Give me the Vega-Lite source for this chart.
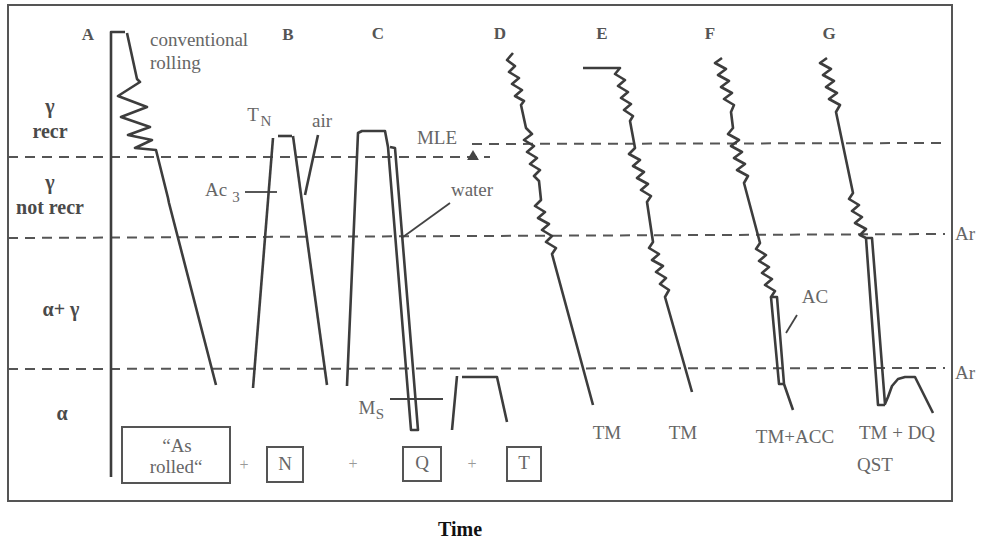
{
  "$schema": "https://vega.github.io/schema/vega-lite/v6.json",
  "width": 983,
  "height": 540,
  "padding": 0,
  "autosize": {"type": "fit", "contains": "padding"},
  "background": "white",
  "config": {"view": {"stroke": null}},
  "datasets": {
    "frame": [{"x": 8, "y": 5, "x2": 952, "y2": 501}],
    "boxes": [
      {"x": 122, "y": 427, "x2": 230, "y2": 483},
      {"x": 267, "y": 447, "x2": 303, "y2": 482},
      {"x": 403, "y": 447, "x2": 441, "y2": 481},
      {"x": 507, "y": 447, "x2": 541, "y2": 481}
    ],
    "dashed": [
      {"id": "d1", "o": 1, "x": 8, "y": 157}, {"id": "d1", "o": 2, "x": 490, "y": 157},
      {"id": "d2", "o": 1, "x": 472, "y": 144}, {"id": "d2", "o": 2, "x": 945, "y": 143},
      {"id": "d3", "o": 1, "x": 8, "y": 238}, {"id": "d3", "o": 2, "x": 945, "y": 234},
      {"id": "d4", "o": 1, "x": 8, "y": 369}, {"id": "d4", "o": 2, "x": 945, "y": 368}
    ],
    "thin": [
      {"id": "ac3", "o": 1, "x": 245, "y": 192}, {"id": "ac3", "o": 2, "x": 277, "y": 192},
      {"id": "ms", "o": 1, "x": 390, "y": 399}, {"id": "ms", "o": 2, "x": 443, "y": 399},
      {"id": "wat", "o": 1, "x": 403, "y": 237}, {"id": "wat", "o": 2, "x": 450, "y": 203},
      {"id": "acl", "o": 1, "x": 786, "y": 333}, {"id": "acl", "o": 2, "x": 797, "y": 315}
    ],
    "solid": [
      {"id": "A0", "o": 1, "x": 111, "y": 477}, {"id": "A0", "o": 2, "x": 111, "y": 32}, {"id": "A0", "o": 3, "x": 125, "y": 32},
      {"id": "A1", "o": 1, "x": 127, "y": 33}, {"id": "A1", "o": 2, "x": 137, "y": 79}, {"id": "A1", "o": 3, "x": 140, "y": 82},
      {"id": "A1", "o": 4, "x": 118, "y": 96}, {"id": "A1", "o": 5, "x": 147, "y": 107}, {"id": "A1", "o": 6, "x": 121, "y": 117},
      {"id": "A1", "o": 7, "x": 150, "y": 127}, {"id": "A1", "o": 8, "x": 128, "y": 135}, {"id": "A1", "o": 9, "x": 152, "y": 140},
      {"id": "A1", "o": 10, "x": 135, "y": 148}, {"id": "A1", "o": 11, "x": 156, "y": 150}, {"id": "A1", "o": 12, "x": 168, "y": 198},
      {"id": "A1", "o": 13, "x": 169, "y": 203}, {"id": "A1", "o": 14, "x": 216, "y": 385},
      {"id": "B0", "o": 1, "x": 253, "y": 388}, {"id": "B0", "o": 2, "x": 273, "y": 138},
      {"id": "B1", "o": 1, "x": 278, "y": 136}, {"id": "B1", "o": 2, "x": 292, "y": 136},
      {"id": "B2", "o": 1, "x": 293, "y": 136}, {"id": "B2", "o": 2, "x": 327, "y": 385},
      {"id": "B3", "o": 1, "x": 305, "y": 195}, {"id": "B3", "o": 2, "x": 318, "y": 135},
      {"id": "C0", "o": 1, "x": 347, "y": 386}, {"id": "C0", "o": 2, "x": 358, "y": 133}, {"id": "C0", "o": 3, "x": 362, "y": 131},
      {"id": "C0", "o": 4, "x": 385, "y": 131}, {"id": "C0", "o": 5, "x": 388, "y": 147}, {"id": "C0", "o": 6, "x": 411, "y": 430},
      {"id": "C0", "o": 7, "x": 418, "y": 430}, {"id": "C0", "o": 8, "x": 395, "y": 148}, {"id": "C0", "o": 9, "x": 390, "y": 147},
      {"id": "T0", "o": 1, "x": 452, "y": 430}, {"id": "T0", "o": 2, "x": 457, "y": 376},
      {"id": "T1", "o": 1, "x": 462, "y": 377}, {"id": "T1", "o": 2, "x": 497, "y": 377}, {"id": "T1", "o": 3, "x": 507, "y": 422},
      {"id": "D", "o": 1, "x": 513, "y": 53}, {"id": "D", "o": 2, "x": 507, "y": 60}, {"id": "D", "o": 3, "x": 515, "y": 66},
      {"id": "D", "o": 4, "x": 509, "y": 72}, {"id": "D", "o": 5, "x": 519, "y": 78}, {"id": "D", "o": 6, "x": 512, "y": 84},
      {"id": "D", "o": 7, "x": 522, "y": 90}, {"id": "D", "o": 8, "x": 515, "y": 96}, {"id": "D", "o": 9, "x": 524, "y": 101},
      {"id": "D", "o": 10, "x": 521, "y": 105}, {"id": "D", "o": 11, "x": 526, "y": 128}, {"id": "D", "o": 12, "x": 532, "y": 134},
      {"id": "D", "o": 13, "x": 524, "y": 140}, {"id": "D", "o": 14, "x": 534, "y": 146}, {"id": "D", "o": 15, "x": 527, "y": 152},
      {"id": "D", "o": 16, "x": 537, "y": 158}, {"id": "D", "o": 17, "x": 530, "y": 164}, {"id": "D", "o": 18, "x": 540, "y": 170},
      {"id": "D", "o": 19, "x": 534, "y": 176}, {"id": "D", "o": 20, "x": 539, "y": 181}, {"id": "D", "o": 21, "x": 541, "y": 200},
      {"id": "D", "o": 22, "x": 535, "y": 206}, {"id": "D", "o": 23, "x": 545, "y": 212}, {"id": "D", "o": 24, "x": 538, "y": 218},
      {"id": "D", "o": 25, "x": 549, "y": 224}, {"id": "D", "o": 26, "x": 542, "y": 230}, {"id": "D", "o": 27, "x": 552, "y": 236},
      {"id": "D", "o": 28, "x": 546, "y": 242}, {"id": "D", "o": 29, "x": 556, "y": 248}, {"id": "D", "o": 30, "x": 552, "y": 254},
      {"id": "D", "o": 31, "x": 593, "y": 405},
      {"id": "E", "o": 1, "x": 583, "y": 68}, {"id": "E", "o": 2, "x": 620, "y": 68}, {"id": "E", "o": 3, "x": 615, "y": 74},
      {"id": "E", "o": 4, "x": 625, "y": 80}, {"id": "E", "o": 5, "x": 618, "y": 86}, {"id": "E", "o": 6, "x": 628, "y": 92},
      {"id": "E", "o": 7, "x": 621, "y": 98}, {"id": "E", "o": 8, "x": 631, "y": 104}, {"id": "E", "o": 9, "x": 624, "y": 110},
      {"id": "E", "o": 10, "x": 633, "y": 116}, {"id": "E", "o": 11, "x": 630, "y": 121}, {"id": "E", "o": 12, "x": 635, "y": 148},
      {"id": "E", "o": 13, "x": 629, "y": 154}, {"id": "E", "o": 14, "x": 640, "y": 160}, {"id": "E", "o": 15, "x": 633, "y": 166},
      {"id": "E", "o": 16, "x": 644, "y": 172}, {"id": "E", "o": 17, "x": 637, "y": 178}, {"id": "E", "o": 18, "x": 648, "y": 184},
      {"id": "E", "o": 19, "x": 641, "y": 190}, {"id": "E", "o": 20, "x": 651, "y": 196}, {"id": "E", "o": 21, "x": 647, "y": 202},
      {"id": "E", "o": 22, "x": 653, "y": 242}, {"id": "E", "o": 23, "x": 649, "y": 248}, {"id": "E", "o": 24, "x": 659, "y": 254},
      {"id": "E", "o": 25, "x": 652, "y": 260}, {"id": "E", "o": 26, "x": 663, "y": 266}, {"id": "E", "o": 27, "x": 656, "y": 272},
      {"id": "E", "o": 28, "x": 666, "y": 278}, {"id": "E", "o": 29, "x": 660, "y": 284}, {"id": "E", "o": 30, "x": 669, "y": 290},
      {"id": "E", "o": 31, "x": 665, "y": 297}, {"id": "E", "o": 32, "x": 692, "y": 392},
      {"id": "F", "o": 1, "x": 722, "y": 58}, {"id": "F", "o": 2, "x": 715, "y": 63}, {"id": "F", "o": 3, "x": 726, "y": 69},
      {"id": "F", "o": 4, "x": 718, "y": 75}, {"id": "F", "o": 5, "x": 729, "y": 81}, {"id": "F", "o": 6, "x": 721, "y": 87},
      {"id": "F", "o": 7, "x": 732, "y": 93}, {"id": "F", "o": 8, "x": 724, "y": 99}, {"id": "F", "o": 9, "x": 734, "y": 105},
      {"id": "F", "o": 10, "x": 731, "y": 112}, {"id": "F", "o": 11, "x": 733, "y": 128}, {"id": "F", "o": 12, "x": 728, "y": 134},
      {"id": "F", "o": 13, "x": 739, "y": 140}, {"id": "F", "o": 14, "x": 731, "y": 146}, {"id": "F", "o": 15, "x": 742, "y": 152},
      {"id": "F", "o": 16, "x": 734, "y": 158}, {"id": "F", "o": 17, "x": 745, "y": 164}, {"id": "F", "o": 18, "x": 737, "y": 170},
      {"id": "F", "o": 19, "x": 748, "y": 176}, {"id": "F", "o": 20, "x": 744, "y": 183}, {"id": "F", "o": 21, "x": 760, "y": 243},
      {"id": "F", "o": 22, "x": 756, "y": 249}, {"id": "F", "o": 23, "x": 766, "y": 255}, {"id": "F", "o": 24, "x": 759, "y": 261},
      {"id": "F", "o": 25, "x": 769, "y": 267}, {"id": "F", "o": 26, "x": 762, "y": 273}, {"id": "F", "o": 27, "x": 772, "y": 279},
      {"id": "F", "o": 28, "x": 765, "y": 285}, {"id": "F", "o": 29, "x": 775, "y": 291}, {"id": "F", "o": 30, "x": 771, "y": 297},
      {"id": "F", "o": 31, "x": 777, "y": 297}, {"id": "F", "o": 32, "x": 784, "y": 384}, {"id": "F", "o": 33, "x": 793, "y": 410},
      {"id": "F1", "o": 1, "x": 771, "y": 297}, {"id": "F1", "o": 2, "x": 779, "y": 384}, {"id": "F1", "o": 3, "x": 784, "y": 384},
      {"id": "G", "o": 1, "x": 827, "y": 58}, {"id": "G", "o": 2, "x": 820, "y": 63}, {"id": "G", "o": 3, "x": 831, "y": 69},
      {"id": "G", "o": 4, "x": 823, "y": 75}, {"id": "G", "o": 5, "x": 834, "y": 81}, {"id": "G", "o": 6, "x": 826, "y": 87},
      {"id": "G", "o": 7, "x": 837, "y": 93}, {"id": "G", "o": 8, "x": 829, "y": 99}, {"id": "G", "o": 9, "x": 840, "y": 105},
      {"id": "G", "o": 10, "x": 836, "y": 112}, {"id": "G", "o": 11, "x": 853, "y": 193}, {"id": "G", "o": 12, "x": 849, "y": 199},
      {"id": "G", "o": 13, "x": 859, "y": 205}, {"id": "G", "o": 14, "x": 852, "y": 211}, {"id": "G", "o": 15, "x": 862, "y": 217},
      {"id": "G", "o": 16, "x": 855, "y": 223}, {"id": "G", "o": 17, "x": 866, "y": 229}, {"id": "G", "o": 18, "x": 860, "y": 235},
      {"id": "G", "o": 19, "x": 866, "y": 238}, {"id": "G", "o": 20, "x": 872, "y": 238}, {"id": "G", "o": 21, "x": 885, "y": 404},
      {"id": "G", "o": 22, "x": 888, "y": 397}, {"id": "G", "o": 23, "x": 892, "y": 386}, {"id": "G", "o": 24, "x": 898, "y": 379},
      {"id": "G", "o": 25, "x": 905, "y": 377}, {"id": "G", "o": 26, "x": 915, "y": 377}, {"id": "G", "o": 27, "x": 933, "y": 413},
      {"id": "G1", "o": 1, "x": 866, "y": 238}, {"id": "G1", "o": 2, "x": 878, "y": 405}, {"id": "G1", "o": 3, "x": 885, "y": 405}
    ],
    "mle": [{"x": 473, "y": 155}],
    "letters": [
      {"x": 88, "y": 35, "t": "A"}, {"x": 288, "y": 35, "t": "B"}, {"x": 378, "y": 34, "t": "C"},
      {"x": 500, "y": 34, "t": "D"}, {"x": 602, "y": 34, "t": "E"}, {"x": 710, "y": 34, "t": "F"}, {"x": 829, "y": 34, "t": "G"}
    ],
    "notesC": [
      {"x": 322, "y": 121, "t": "air"}, {"x": 437, "y": 138, "t": "MLE"}, {"x": 472, "y": 190, "t": "water"},
      {"x": 607, "y": 433, "t": "TM"}, {"x": 683, "y": 433, "t": "TM"}, {"x": 795, "y": 437, "t": "TM+ACC"},
      {"x": 897, "y": 433, "t": "TM + DQ"}, {"x": 815, "y": 297, "t": "AC"},
      {"x": 285, "y": 464, "t": "N"}, {"x": 422, "y": 463, "t": "Q"}, {"x": 524, "y": 463, "t": "T"},
      {"x": 177, "y": 446, "t": "“As"}, {"x": 176, "y": 467, "t": "rolled“"},
      {"x": 253, "y": 115, "t": "T"}, {"x": 216, "y": 190, "t": "Ac"}, {"x": 367, "y": 408, "t": "M"}
    ],
    "notesL": [
      {"x": 150, "y": 40, "t": "conventional"}, {"x": 150, "y": 63, "t": "rolling"},
      {"x": 857, "y": 465, "t": "QST"}, {"x": 955, "y": 234, "t": "Ar"}, {"x": 955, "y": 373, "t": "Ar"}
    ],
    "subs": [
      {"x": 266, "y": 121, "t": "N"}, {"x": 236, "y": 197, "t": "3"}, {"x": 380, "y": 414, "t": "S"}
    ],
    "phases": [
      {"x": 50, "y": 107, "t": "γ"}, {"x": 50, "y": 132, "t": "recr"}, {"x": 50, "y": 183, "t": "γ"},
      {"x": 50, "y": 208, "t": "not recr"}, {"x": 61, "y": 310, "t": "α+ γ"}, {"x": 62, "y": 414, "t": "α"}
    ],
    "plus": [
      {"x": 244, "y": 465, "t": "+"}, {"x": 353, "y": 464, "t": "+"}, {"x": 472, "y": 464, "t": "+"}
    ],
    "title": [{"x": 460, "y": 530, "t": "Time"}]
  },
  "layer": [
    {
      "data": {"name": "frame"},
      "mark": {"type": "rect", "fill": null, "fillOpacity": 0, "stroke": "#555", "strokeWidth": 2},
      "encoding": {
        "x": {"field": "x", "type": "quantitative", "scale": {"domain": [0, 983], "nice": false, "zero": false}, "axis": null},
        "y": {"field": "y", "type": "quantitative", "scale": {"domain": [0, 540], "nice": false, "zero": false, "reverse": true}, "axis": null},
        "x2": {"field": "x2"},
        "y2": {"field": "y2"}
      }
    },
    {
      "data": {"name": "boxes"},
      "mark": {"type": "rect", "fill": null, "fillOpacity": 0, "stroke": "#555", "strokeWidth": 2},
      "encoding": {
        "x": {"field": "x", "type": "quantitative", "axis": null},
        "y": {"field": "y", "type": "quantitative", "axis": null},
        "x2": {"field": "x2"},
        "y2": {"field": "y2"}
      }
    },
    {
      "data": {"name": "dashed"},
      "mark": {"type": "line", "color": "#555", "strokeWidth": 2, "strokeDash": [10, 7]},
      "encoding": {
        "x": {"field": "x", "type": "quantitative", "axis": null},
        "y": {"field": "y", "type": "quantitative", "axis": null},
        "detail": {"field": "id"},
        "order": {"field": "o"}
      }
    },
    {
      "data": {"name": "thin"},
      "mark": {"type": "line", "color": "#444", "strokeWidth": 1.8},
      "encoding": {
        "x": {"field": "x", "type": "quantitative", "axis": null},
        "y": {"field": "y", "type": "quantitative", "axis": null},
        "detail": {"field": "id"},
        "order": {"field": "o"}
      }
    },
    {
      "data": {"name": "solid"},
      "mark": {"type": "line", "color": "#3d3d3d", "strokeWidth": 2.6, "strokeJoin": "round"},
      "encoding": {
        "x": {"field": "x", "type": "quantitative", "axis": null},
        "y": {"field": "y", "type": "quantitative", "axis": null},
        "detail": {"field": "id"},
        "order": {"field": "o"}
      }
    },
    {
      "data": {"name": "mle"},
      "mark": {"type": "point", "shape": "triangle-up", "filled": true, "color": "#444", "size": 140, "opacity": 1},
      "encoding": {
        "x": {"field": "x", "type": "quantitative", "axis": null},
        "y": {"field": "y", "type": "quantitative", "axis": null}
      }
    },
    {
      "data": {"name": "letters"},
      "mark": {"type": "text", "font": "Liberation Serif", "fontSize": 17, "fontWeight": "bold", "color": "#555", "align": "center", "baseline": "middle"},
      "encoding": {
        "x": {"field": "x", "type": "quantitative", "axis": null},
        "y": {"field": "y", "type": "quantitative", "axis": null},
        "text": {"field": "t"}
      }
    },
    {
      "data": {"name": "notesC"},
      "mark": {"type": "text", "font": "Liberation Serif", "fontSize": 19, "color": "#666", "align": "center", "baseline": "middle"},
      "encoding": {
        "x": {"field": "x", "type": "quantitative", "axis": null},
        "y": {"field": "y", "type": "quantitative", "axis": null},
        "text": {"field": "t"}
      }
    },
    {
      "data": {"name": "notesL"},
      "mark": {"type": "text", "font": "Liberation Serif", "fontSize": 19, "color": "#666", "align": "left", "baseline": "middle"},
      "encoding": {
        "x": {"field": "x", "type": "quantitative", "axis": null},
        "y": {"field": "y", "type": "quantitative", "axis": null},
        "text": {"field": "t"}
      }
    },
    {
      "data": {"name": "subs"},
      "mark": {"type": "text", "font": "Liberation Serif", "fontSize": 15, "color": "#666", "align": "center", "baseline": "middle"},
      "encoding": {
        "x": {"field": "x", "type": "quantitative", "axis": null},
        "y": {"field": "y", "type": "quantitative", "axis": null},
        "text": {"field": "t"}
      }
    },
    {
      "data": {"name": "phases"},
      "mark": {"type": "text", "font": "Liberation Serif", "fontSize": 20, "fontWeight": "bold", "color": "#4a4a4a", "align": "center", "baseline": "middle"},
      "encoding": {
        "x": {"field": "x", "type": "quantitative", "axis": null},
        "y": {"field": "y", "type": "quantitative", "axis": null},
        "text": {"field": "t"}
      }
    },
    {
      "data": {"name": "plus"},
      "mark": {"type": "text", "font": "Liberation Serif", "fontSize": 16, "color": "#999", "align": "center", "baseline": "middle"},
      "encoding": {
        "x": {"field": "x", "type": "quantitative", "axis": null},
        "y": {"field": "y", "type": "quantitative", "axis": null},
        "text": {"field": "t"}
      }
    },
    {
      "data": {"name": "title"},
      "mark": {"type": "text", "font": "Liberation Serif", "fontSize": 20, "fontWeight": "bold", "color": "#111", "align": "center", "baseline": "middle"},
      "encoding": {
        "x": {"field": "x", "type": "quantitative", "axis": null},
        "y": {"field": "y", "type": "quantitative", "axis": null},
        "text": {"field": "t"}
      }
    }
  ]
}
